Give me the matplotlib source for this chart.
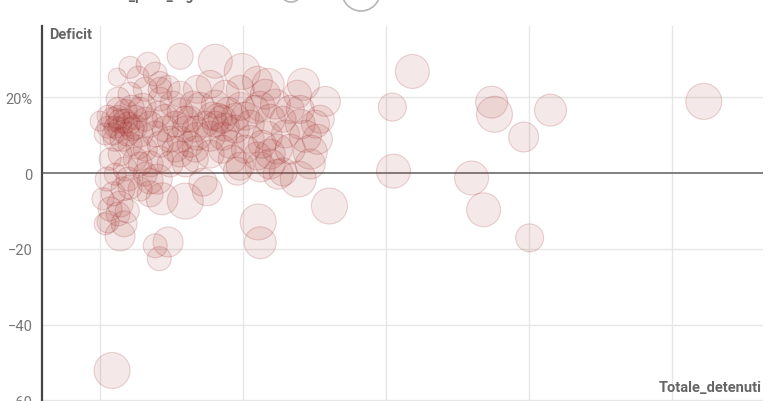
import matplotlib
matplotlib.use("Agg")
import matplotlib.pyplot as plt
from matplotlib.patches import Circle
from matplotlib.transforms import IdentityTransform
import numpy as np

plt.rcParams['font.family'] = ['Roboto', 'DejaVu Sans']

# Totale_detenuti (x), Deficit % (y), Posti (bubble size)
totale_detenuti = [
    1092, 1022, 1369, 1379, 1481, 1575, 2111, 1026, 1299, 1341, 1502, 802, 553, 560, 693, 42,
    238, 193, 207, 70, 28, 298, 375, 217, 480, 623, 560, 280, 403, 497, 105, 168, 60, 193,
    550, 588, 711, 690, 788, 340, 210, 760, 735,
    46, 70, 98, 28, 88, 123, 53, 105, 140, 175, 203, 228, 263, 298, 0, 18, 158, 210, 263, 315,
    70, 123, 35, 175, 245, 88, 158, 133, 210, 238, 158, 150, 255, 325, 63, 105, 25, 46, 35, 70,
    95, 84, 105, 140, 175, 200, 10, 80, 63, 88, 112, 53, 77, 133,
    392, 427, 350, 490, 560, 595, 640, 508, 525, 585, 620, 718, 550, 490, 427, 430, 385, 340,
    360, 640, 403, 448, 315, 280, 473, 665, 770, 700, 578, 438, 385, 595, 462, 298, 333,
    63, 112, 28, 70, 95, 123, 46, 158, 193, 228, 280, 298, 245, 333, 368, 413, 438, 403,
    473, 525, 543, 613, 665, 648, 567, 508, 455, 385, 333, 280, 210, 140, 175, 53, 98, 63,
    18, 140, 210, 280, 490, 700, 753, 595, 735,
]
deficit = [
    26.8, 17.4, 18.7, 15.5, 9.5, 16.6, 18.9, 0.5, -1.3, -9.7, -17.1, -8.7, -12.9, -18.4, -1.6, -52.1,
    -18.2, -19.2, -22.6, -16.6, -12.9, -7.4, -4.7, -6.8, 0.5, -0.3, 1.6, 30.8, 29.5, 26.8, 27.9, 28.7, 25.3, 26.1,
    24.2, 23.4, 23.4, 20.8, 18.9, 22.1, 22.1, 8.9, 5.5,
    14.2, 11.6, 12.9, 15.0, 16.3, 14.7, 8.9, 7.6, 10.3, 12.9, 15.5, 11.6, 12.9, 11.6, 13.7, 10.3, 6.3, 7.6, 6.3, 7.6,
    5.0, 3.7, 3.7, 2.4, 2.4, 1.1, -0.3, 25.3, 23.9, 22.6, 22.1, 17.6, 18.2, 18.2, 19.5, 20.8, -1.6, -5.5, -9.5, -8.2,
    -10.0, -13.4, -3.7, -4.2, -2.1, -1.6, -6.8, -4.2, 14.7, 13.7, 11.6, 12.1, 8.9, 6.8,
    15.0, 14.2, 17.6, 17.6, 17.6, 14.2, 14.2, 15.0, 8.9, 9.7, 6.3, 9.7, 4.5, 1.8, 6.3, 9.7, 9.7, 9.7,
    -2.4, 0.3, 12.9, 16.3, 14.2, 8.9, 11.6, 6.3, 14.2, 12.9, 20.8, 20.8, 23.4, 5.0, 3.7, 2.4, 3.7,
    16.8, 17.4, 12.1, 13.7, 10.3, 12.1, 10.3, 14.2, 10.3, 14.7, 16.3, 14.2, 8.9, 11.6, 12.9, 14.7, 12.1, 18.2,
    14.7, 12.9, 16.8, 18.2, 16.8, 10.3, 7.6, 6.3, 7.6, 5.0, 6.3, 5.0, 3.7, 2.4, -5.5, -0.3, -1.6, -10.8,
    -13.4, 16.8, 19.5, 20.8, 22.1, 16.8, 12.9, 2.4, 2.4,
]
posti = [
    289, 196, 256, 324, 225, 256, 324, 289, 289, 289, 196, 324, 324, 256, 324, 324,
    225, 144, 144, 225, 121, 324, 225, 256, 196, 225, 225, 169, 289, 324, 121, 144, 81, 144,
    225, 256, 256, 196, 225, 196, 144, 225, 289,
    144, 144, 144, 121, 144, 144, 144, 144, 169, 169, 169, 169, 169, 169, 100, 121, 144, 169, 169, 169,
    144, 144, 121, 169, 169, 144, 144, 121, 121, 144, 144, 169, 169, 169, 144, 144, 144, 144, 144, 169,
    144, 169, 144, 144, 169, 225, 121, 144, 144, 144, 144, 121, 144, 144,
    196, 196, 196, 196, 225, 225, 169, 196, 196, 225, 225, 256, 196, 196, 196, 196, 225, 196,
    196, 196, 169, 196, 169, 169, 196, 225, 196, 225, 225, 196, 196, 225, 196, 169, 169,
    144, 144, 121, 144, 144, 144, 121, 144, 169, 169, 169, 169, 169, 169, 169, 196, 196, 196,
    196, 196, 196, 225, 196, 196, 196, 196, 196, 196, 169, 169, 169, 144, 169, 121, 144, 144,
    121, 144, 144, 169, 196, 196, 196, 225, 225,
]

y_ticks = [20, 0, -20, -40, -60]
y_tick_labels = ["20%", "0", "\u221220", "\u221240", "\u221260"]
x_grid = [0, 500, 1000, 1500, 2000]

W, H = 770, 402
fig = plt.figure(figsize=(W / 100, H / 100), dpi=100)
ax = fig.add_axes([42 / W, (H - 409) / H, (763 - 42) / W, (409 - 27) / H])
ax.set_xlim(-203, 2318)
ax.set_ylim(-62, 38.8)

for xv in x_grid:
    ax.axvline(xv, color='#e6e6e6', lw=1, zorder=0)
for yv in y_ticks:
    if yv != 0:
        ax.axhline(yv, color='#e6e6e6', lw=1, zorder=0)
ax.axhline(0, color='#6b6b6b', lw=1.2, zorder=1)

sizes = np.array(posti) * 2.07
ax.scatter(totale_detenuti, deficit, s=sizes, facecolor=(0.66, 0.2, 0.18, 0.11),
           edgecolor=(0.6, 0.18, 0.16, 0.2), linewidth=0.8, zorder=3)

for s in ['top', 'right', 'bottom']:
    ax.spines[s].set_visible(False)
ax.spines['left'].set_color('#444444')
ax.spines['left'].set_linewidth(1.6)
ax.set_xticks([])
ax.set_yticks(y_ticks)
ax.set_yticklabels(y_tick_labels)
ax.tick_params(axis='y', length=0, pad=7, labelsize=10.5, labelcolor='#757575')

fig.text(49 / W, 1 - 35 / H, "Deficit", ha='left', va='center', fontsize=10.5,
         fontweight='bold', color='#666666')
fig.text(762 / W, 1 - 388 / H, "Totale_detenuti", ha='right', va='center', fontsize=10.5,
         fontweight='bold', color='#666666')

# size legend (cropped at top)
fig.text(90 / W, 1.0, "Totale_posti_regolamentari", ha='left', va='baseline', fontsize=10,
         fontweight='bold', color='#666666')
for cx, cy, r in [(291, -8, 11), (361, -7, 19)]:
    c = Circle((cx, H - cy), r, transform=IdentityTransform(), fill=False,
               edgecolor='#b5b5b5', lw=1.2, clip_on=False)
    fig.add_artist(c)

fig.savefig("out.png", dpi=100)
